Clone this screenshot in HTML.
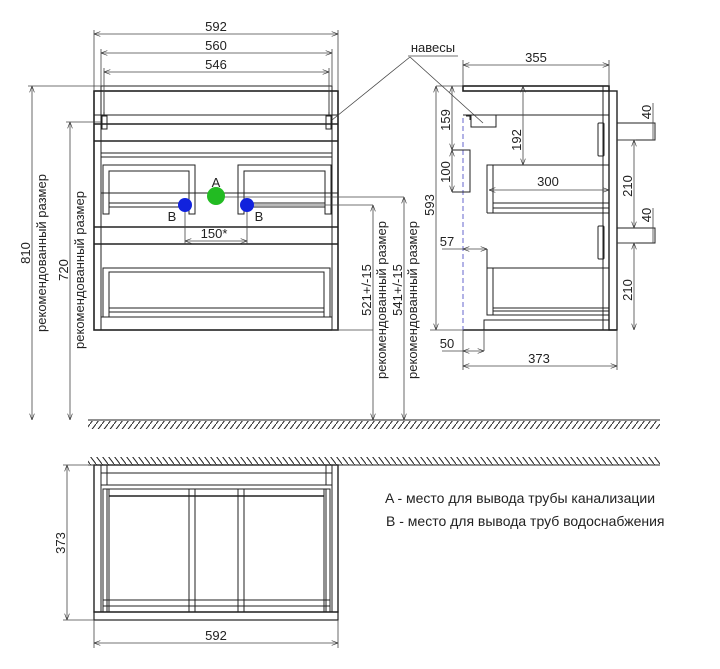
<!DOCTYPE html>
<html><head><meta charset="utf-8"><style>
html,body{margin:0;padding:0;background:#fff;width:720px;height:669px;overflow:hidden}
svg{display:block}
text{font-family:"Liberation Sans",sans-serif;font-size:13px;fill:#222}
</style></head><body>
<svg width="720" height="669" viewBox="0 0 720 669" xmlns="http://www.w3.org/2000/svg">
<defs>
<pattern id="h1" width="6" height="8" patternUnits="userSpaceOnUse"><line x1="6" y1="0" x2="0" y2="8" stroke="#222" stroke-width="1"/></pattern>
<pattern id="h2" width="6" height="8" patternUnits="userSpaceOnUse"><line x1="0" y1="0" x2="6" y2="8" stroke="#222" stroke-width="1"/></pattern>
<marker id="a" markerWidth="8" markerHeight="6" refX="8" refY="3" orient="auto-start-reverse"><path d="M0,0 L8,3 L0,6" fill="none" stroke="#333" stroke-width="0.8"/></marker>
</defs>
<g stroke="#222" fill="none" stroke-width="1">
<line x1="88" y1="420" x2="660" y2="420"/>
<rect x="88" y="421" width="572" height="8" fill="url(#h1)" stroke="none"/>
<rect x="101" y="86" width="231" height="5"/>
<rect x="94" y="91" width="244" height="239" stroke-width="1.6"/>
<line x1="101" y1="91" x2="101" y2="330"/><line x1="332" y1="91" x2="332" y2="330"/>
<line x1="104" y1="91" x2="104" y2="115"/><line x1="329" y1="91" x2="329" y2="115"/>
<line x1="94" y1="115" x2="338" y2="115"/>
<line x1="94" y1="124" x2="338" y2="124" stroke-width="1.4"/>
<rect x="102" y="116" width="5" height="13"/><rect x="326" y="116" width="5" height="13"/>
<line x1="94" y1="141" x2="338" y2="141" stroke-width="1.4"/>
<line x1="101" y1="153" x2="332" y2="153"/><line x1="101" y1="157" x2="332" y2="157"/>
<path d="M103,214 V165 H195 V214 H189 V171 H109 V214 Z"/>
<line x1="109" y1="203" x2="189" y2="203"/><line x1="109" y1="207" x2="189" y2="207"/>
<path d="M238,214 V165 H331 V214 H325 V171 H244 V214 Z"/>
<line x1="244" y1="203" x2="325" y2="203"/><line x1="244" y1="207" x2="325" y2="207"/>
<line x1="101" y1="193" x2="338" y2="193"/>
<line x1="94" y1="227" x2="338" y2="227" stroke-width="1.6"/>
<line x1="94" y1="244" x2="338" y2="244" stroke-width="1.4"/>
<path d="M103,317 V268 H330 V317 H324 V272 H109 V317 Z"/>
<line x1="109" y1="308" x2="324" y2="308"/><line x1="109" y1="312" x2="324" y2="312"/>
<line x1="101" y1="317" x2="332" y2="317"/>
<g stroke="#444" stroke-width="0.8">
<line x1="94" y1="30" x2="94" y2="91"/><line x1="338" y1="30" x2="338" y2="91"/>
<line x1="94" y1="34" x2="338" y2="34" marker-start="url(#a)" marker-end="url(#a)"/>
<line x1="101" y1="49" x2="101" y2="86"/><line x1="332" y1="49" x2="332" y2="86"/>
<line x1="101" y1="53" x2="332" y2="53" marker-start="url(#a)" marker-end="url(#a)"/>
<line x1="104" y1="68" x2="104" y2="112"/><line x1="329" y1="68" x2="329" y2="112"/>
<line x1="104" y1="72" x2="329" y2="72" marker-start="url(#a)" marker-end="url(#a)"/>
<line x1="28" y1="86" x2="101" y2="86"/>
<line x1="32" y1="86" x2="32" y2="420" marker-start="url(#a)" marker-end="url(#a)"/>
<line x1="66" y1="122" x2="101" y2="122"/>
<line x1="70" y1="122" x2="70" y2="420" marker-start="url(#a)" marker-end="url(#a)"/>
<line x1="185" y1="205" x2="185" y2="244"/><line x1="247" y1="205" x2="247" y2="244"/>
<line x1="185" y1="241" x2="247" y2="241" marker-start="url(#a)" marker-end="url(#a)"/>
<line x1="216" y1="197" x2="404" y2="197"/><line x1="247" y1="205" x2="373" y2="205"/>
<line x1="404" y1="197" x2="404" y2="420" marker-start="url(#a)" marker-end="url(#a)"/>
<line x1="373" y1="205" x2="373" y2="420" marker-start="url(#a)" marker-end="url(#a)"/>
<line x1="332" y1="330" x2="373" y2="330"/>
<line x1="408" y1="56" x2="458" y2="56"/>
<line x1="410" y1="57" x2="332" y2="120"/><line x1="410" y1="57" x2="483" y2="123"/>
</g>
<circle cx="216" cy="196" r="9" fill="#22bb22" stroke="none"/>
<circle cx="185" cy="205" r="7" fill="#1122dd" stroke="none"/>
<circle cx="247" cy="205" r="7" fill="#1122dd" stroke="none"/>
<rect x="463" y="86" width="146" height="5" stroke-width="1.6"/>
<rect x="603" y="86" width="6" height="244"/>
<rect x="609" y="91" width="8" height="239" stroke-width="1.4"/>
<line x1="463" y1="115" x2="609" y2="115"/>
<line x1="463" y1="330" x2="617" y2="330" stroke-width="1.4"/>
<line x1="463" y1="118" x2="463" y2="330" stroke="#6666cc" stroke-dasharray="5,3"/>
<path d="M471,115 V127 H496 V115"/><path d="M466,116 h4 v4"/>
<path d="M452,150 H470 V192 H452"/>
<path d="M487,213 V165 H609 M487,213 H609 M493,213 V165 M493,203 H609 M493,208 H609"/>
<path d="M487,249 V315 H609 M487,268 H609 M493,315 V268 M493,308 H609 M493,311 H609"/>
<path d="M484,330 V320 H609"/>
<rect x="598" y="123" width="6" height="33" rx="1"/><rect x="598" y="226" width="6" height="33" rx="1"/>
<rect x="617" y="123" width="38" height="17"/><rect x="617" y="228" width="38" height="15"/>
<g stroke="#444" stroke-width="0.8">
<line x1="463" y1="60" x2="463" y2="86"/><line x1="609" y1="60" x2="609" y2="86"/>
<line x1="463" y1="65" x2="609" y2="65" marker-start="url(#a)" marker-end="url(#a)"/>
<line x1="463" y1="330" x2="463" y2="370"/><line x1="617" y1="330" x2="617" y2="370"/>
<line x1="463" y1="366" x2="617" y2="366" marker-start="url(#a)" marker-end="url(#a)"/>
<line x1="436" y1="86" x2="463" y2="86"/>
<line x1="436" y1="86" x2="436" y2="330" marker-start="url(#a)" marker-end="url(#a)"/>
<line x1="430" y1="330" x2="463" y2="330"/>
<line x1="452" y1="86" x2="452" y2="150" marker-start="url(#a)" marker-end="url(#a)"/>
<line x1="452" y1="150" x2="452" y2="192" marker-start="url(#a)" marker-end="url(#a)"/>
<line x1="523" y1="86" x2="523" y2="165" marker-start="url(#a)" marker-end="url(#a)"/>
<line x1="489" y1="190" x2="609" y2="190" marker-start="url(#a)" marker-end="url(#a)"/>
<line x1="442" y1="249" x2="463" y2="249"/><line x1="463" y1="249" x2="487" y2="249" marker-start="url(#a)" marker-end="url(#a)"/>
<line x1="442" y1="351" x2="463" y2="351"/><line x1="463" y1="351" x2="484" y2="351" marker-start="url(#a)" marker-end="url(#a)"/>
<line x1="484" y1="330" x2="484" y2="351"/>
<line x1="617" y1="140" x2="636" y2="140"/><line x1="617" y1="243" x2="636" y2="243"/>
<line x1="634" y1="140" x2="634" y2="228" marker-start="url(#a)" marker-end="url(#a)"/>
<line x1="634" y1="243" x2="634" y2="330" marker-start="url(#a)" marker-end="url(#a)"/>
<line x1="653" y1="103" x2="653" y2="140"/><line x1="653" y1="208" x2="653" y2="243"/>
</g>
<line x1="88" y1="465" x2="660" y2="465"/>
<rect x="88" y="457" width="572" height="8" fill="url(#h2)" stroke="none"/>
<rect x="94" y="465" width="244" height="147" stroke-width="1.4"/>
<rect x="94" y="612" width="244" height="8" stroke-width="1.2"/>
<line x1="101" y1="465" x2="101" y2="612"/><line x1="332" y1="465" x2="332" y2="612"/>
<line x1="107" y1="465" x2="107" y2="485"/><line x1="326" y1="465" x2="326" y2="485"/>
<line x1="101" y1="473" x2="332" y2="473"/><line x1="101" y1="485" x2="332" y2="485"/>
<rect x="103" y="489" width="227" height="123"/>
<line x1="107" y1="489" x2="107" y2="612"/><line x1="109" y1="489" x2="109" y2="612"/>
<line x1="324" y1="489" x2="324" y2="612"/><line x1="326" y1="489" x2="326" y2="612"/>
<line x1="109" y1="496" x2="324" y2="496" stroke-width="1.4"/>
<line x1="103" y1="600" x2="330" y2="600"/><line x1="103" y1="606" x2="330" y2="606"/>
<rect x="189" y="489" width="6" height="123"/><rect x="238" y="489" width="6" height="123"/>
<g stroke="#444" stroke-width="0.8">
<line x1="63" y1="465" x2="94" y2="465"/><line x1="63" y1="620" x2="94" y2="620"/>
<line x1="67" y1="465" x2="67" y2="620" marker-start="url(#a)" marker-end="url(#a)"/>
<line x1="94" y1="620" x2="94" y2="648"/><line x1="338" y1="620" x2="338" y2="648"/>
<line x1="94" y1="643" x2="338" y2="643" marker-start="url(#a)" marker-end="url(#a)"/>
</g>
</g>
<text x="216" y="31" text-anchor="middle">592</text>
<text x="216" y="50" text-anchor="middle">560</text>
<text x="216" y="69" text-anchor="middle">546</text>
<text x="216" y="187" text-anchor="middle">A</text>
<text x="172" y="221" text-anchor="middle">B</text>
<text x="259" y="221" text-anchor="middle">B</text>
<text x="214" y="238" text-anchor="middle">150*</text>
<text transform="translate(30,253) rotate(-90)" text-anchor="middle">810</text>
<text transform="translate(46,253) rotate(-90)" text-anchor="middle">рекомендованный размер</text>
<text transform="translate(68,270) rotate(-90)" text-anchor="middle">720</text>
<text transform="translate(84,270) rotate(-90)" text-anchor="middle">рекомендованный размер</text>
<text transform="translate(371,290) rotate(-90)" text-anchor="middle">521+/-15</text>
<text transform="translate(386,300) rotate(-90)" text-anchor="middle">рекомендованный размер</text>
<text transform="translate(402,290) rotate(-90)" text-anchor="middle">541+/-15</text>
<text transform="translate(417,300) rotate(-90)" text-anchor="middle">рекомендованный размер</text>
<text x="433" y="52" text-anchor="middle">навесы</text>
<text x="536" y="62" text-anchor="middle">355</text>
<text x="539" y="363" text-anchor="middle">373</text>
<text transform="translate(450,120) rotate(-90)" text-anchor="middle">159</text>
<text transform="translate(450,172) rotate(-90)" text-anchor="middle">100</text>
<text transform="translate(434,205) rotate(-90)" text-anchor="middle">593</text>
<text transform="translate(521,140) rotate(-90)" text-anchor="middle">192</text>
<text x="548" y="186" text-anchor="middle">300</text>
<text x="447" y="246" text-anchor="middle">57</text>
<text x="447" y="348" text-anchor="middle">50</text>
<text transform="translate(632,186) rotate(-90)" text-anchor="middle">210</text>
<text transform="translate(632,290) rotate(-90)" text-anchor="middle">210</text>
<text transform="translate(651,112) rotate(-90)" text-anchor="middle">40</text>
<text transform="translate(651,215) rotate(-90)" text-anchor="middle">40</text>
<text transform="translate(65,543) rotate(-90)" text-anchor="middle">373</text>
<text x="216" y="640" text-anchor="middle">592</text>
<text x="385" y="503" style="font-size:14px">A - место для вывода трубы канализации</text>
<text x="386" y="526" style="font-size:14px">B - место для вывода труб водоснабжения</text>
</svg>
</body></html>
